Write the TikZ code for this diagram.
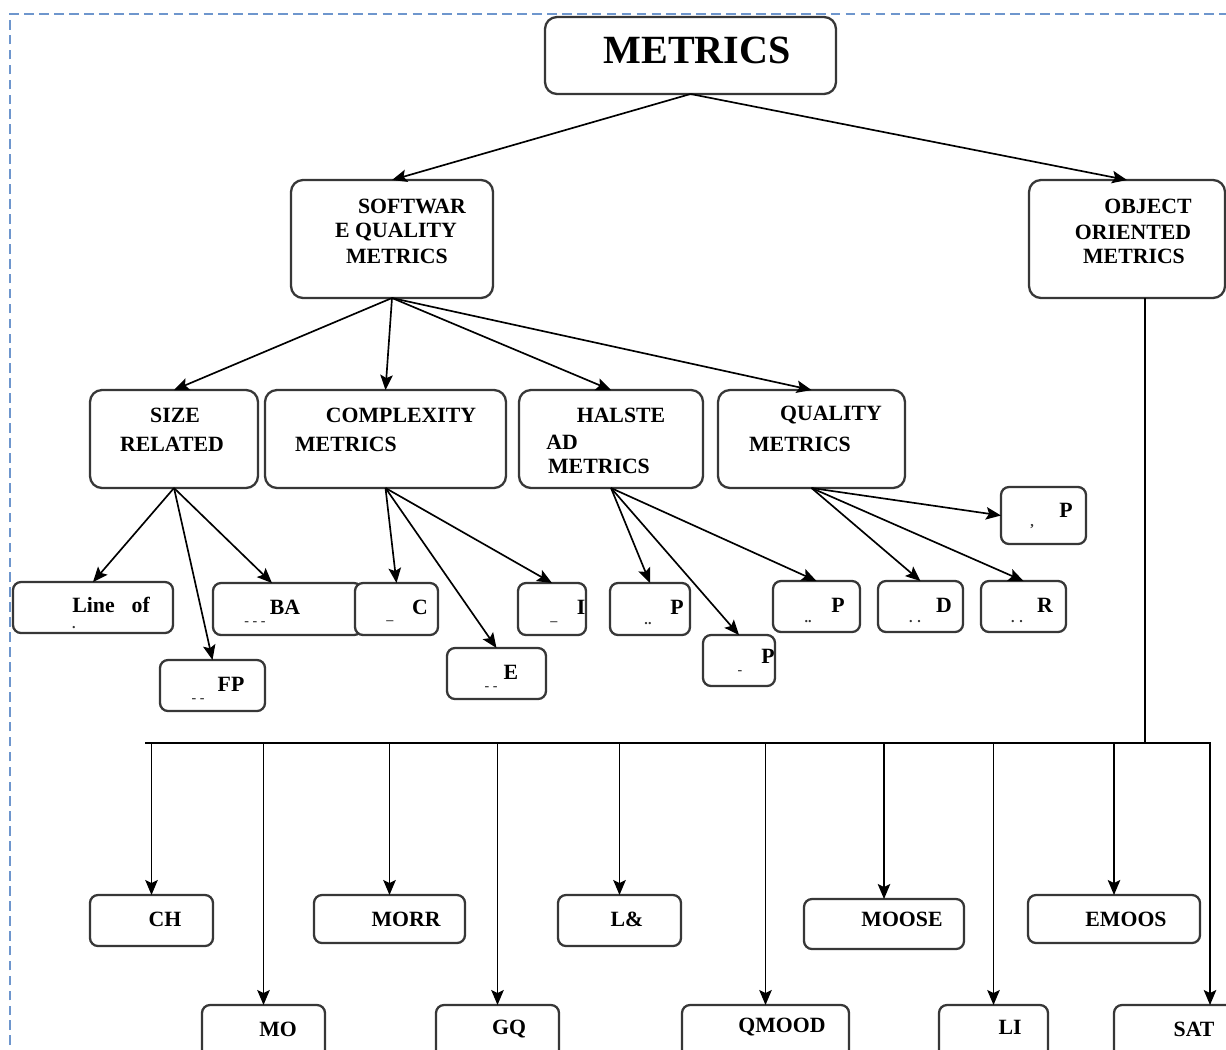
\documentclass[tikz,border=0pt]{standalone}
\usepackage{fontspec}
\setmainfont{Liberation Serif}
\usetikzlibrary{arrows.meta,calc}
\definecolor{framec}{RGB}{110,150,205}
\definecolor{boxc}{RGB}{55,55,55}
\tikzset{
  box/.style={draw=boxc, line width=1.3pt, rounded corners=0.24cm, fill=white, inner sep=0pt, outer sep=0pt},
  sbox/.style={box, rounded corners=0.16cm},
  txt/.style={font=\bfseries\fontsize{12.4}{15}\selectfont, inner sep=0pt, text=black},
  mk/.style={font=\bfseries\fontsize{8}{8}\selectfont, inner sep=0pt, text=black!80},
  arr/.style={-{Stealth[length=3mm,width=2.5mm,inset=0.6mm]}, line width=0.95pt, black},
  ln/.style={line width=0.95pt, black},
}
\newcommand{\mybox}[6][box]{\node[#1, minimum width={(#5-#3)*0.02cm}, minimum height={(#6-#4)*0.02cm}] (#2) at ({(#3+#5)/2},{(#4+#6)/2}) {};}
\newcommand{\mytxt}[4]{\node[txt] (#1) at (#2,#3) {#4};}
\newcommand{\mymk}[4]{\node[mk] (#1) at (#2,#3) {#4};}
\begin{document}
\begin{tikzpicture}[x=0.02cm,y=-0.02cm]
\useasboundingbox (0,0) rectangle (1226,1049);
\clip (0,0) rectangle (1226,1049);
% frame
\draw[framec, line width=0.9pt, dash pattern=on 5.5pt off 3pt] (10,1060) -- (10,14) -- (1240,14);

% boxes
\mybox{metrics}{545}{17}{836}{94}
\mybox{sqm}{291}{180}{493}{298}
\mybox{oom}{1029}{180}{1225}{298}
\mybox{size}{90}{390}{258}{488}
\mybox{cx}{265}{390}{506}{488}
\mybox{hal}{519}{390}{703}{488}
\mybox{ql}{718}{390}{905}{488}
\mybox[sbox]{lof}{13}{582}{173}{633}
\mybox[sbox]{ba}{213}{583}{362}{635}
\mybox[sbox]{fp}{160}{660}{265}{711}
\mybox[sbox]{bc}{355}{583}{438}{635}
\mybox[sbox]{be}{447}{648}{546}{699}
\mybox[sbox]{bi}{518}{583}{586}{635}
\mybox[sbox]{pa}{610}{583}{690}{635}
\mybox[sbox]{pb}{703}{635}{775}{686}
\mybox[sbox]{pc}{773}{581}{860}{632}
\mybox[sbox]{bd}{878}{581}{963}{632}
\mybox[sbox]{br}{981}{581}{1066}{632}
\mybox[sbox]{pq}{1001}{487}{1086}{544}
\mybox[sbox]{ch}{90}{895}{213}{946}
\mybox[sbox]{morr}{314}{895}{465}{943}
\mybox[sbox]{la}{558}{895}{681}{946}
\mybox[sbox]{moose}{804}{899}{964}{949}
\mybox[sbox]{emoos}{1028}{895}{1200}{943}
\mybox[sbox]{mo}{202}{1005}{325}{1075}
\mybox[sbox]{gq}{436}{1005}{559}{1075}
\mybox[sbox]{qmood}{682}{1005}{849}{1075}
\mybox[sbox]{li}{939}{1005}{1048}{1075}
\mybox[sbox]{sat}{1114}{1005}{1306}{1075}

% texts
\node[txt, font=\bfseries\fontsize{22.8}{26}\selectfont] (t0) at (697,50) {METRICS};
\mytxt{s1}{412}{206}{SOFTWAR}
\mytxt{s2}{396}{232}{E QUALITY}
\mytxt{s3}{397}{256}{METRICS}
\mytxt{o1}{1148}{206}{OBJECT}
\mytxt{o2}{1133}{232}{ORIENTED}
\mytxt{o3}{1134}{256}{METRICS}
\mytxt{z1}{175}{415}{SIZE}
\mytxt{z2}{172}{444}{RELATED}
\mytxt{c1}{401}{415}{COMPLEXITY}
\mytxt{c2}{346}{444}{METRICS}
\mytxt{h1}{621}{415}{HALSTE}
\mytxt{h2}{562}{442}{AD}
\mytxt{h3}{599}{466}{METRICS}
\mytxt{q1}{831}{415}{QUALITY}
\mytxt{q2}{800}{444}{METRICS}
\node[txt, anchor=west] (tlof) at (72,605) {Line\hspace{0.34cm}of};
\mymk{mlof}{74}{628}{.}
\mytxt{tba}{285}{607}{BA}
\mymk{mba}{255}{624}{- - -}
\mytxt{tfp}{231}{684}{FP}
\mymk{mfp}{198}{701}{- -}
\mytxt{tc}{420}{607}{C}
\mymk{mc}{390}{623}{–}
\mytxt{te}{511}{672}{E}
\mymk{me}{491}{689}{- -}
\mytxt{ti}{581}{607}{I}
\mymk{mi}{554}{624}{–}
\mytxt{tpa}{677}{607}{P}
\mymk{mpa}{648}{624}{..}
\mytxt{tpb}{768}{656}{P}
\mymk{mpb}{740}{673}{-}
\mytxt{tpc}{838}{605}{P}
\mymk{mpc}{808}{622}{..}
\mytxt{td}{944}{605}{D}
\mymk{md}{915}{622}{. .}
\mytxt{tr}{1045}{605}{R}
\mymk{mr}{1017}{622}{. .}
\mytxt{tpq}{1066}{510}{P}
\mymk{mpq}{1032}{527}{,}
\mytxt{tch}{165}{919}{CH}
\mytxt{tmorr}{406}{919}{MORR}
\mytxt{tla}{627}{919}{L\&}
\mytxt{tmoose}{902}{919}{MOOSE}
\mytxt{temoos}{1126}{919}{EMOOS}
\mytxt{tmo}{278}{1029}{MO}
\mytxt{tgq}{509}{1029}{GQ}
\mytxt{tqmood}{782}{1027}{QMOOD}
\mytxt{tli}{1010}{1027}{LI}
\mytxt{tsat}{1194}{1029}{SAT}

% connectors
\draw[arr] (metrics.south) -- (sqm.north);
\draw[arr] (metrics.south) -- (oom.north);
\draw[arr] (sqm.south) -- (size.north);
\draw[arr] (sqm.south) -- (cx.north);
\draw[arr] (sqm.south) -- (hal.north);
\draw[arr] (sqm.south) -- (ql.north);
\draw[arr] (size.south) -- (lof.north);
\draw[arr] (size.south) -- (fp.north);
\draw[arr] (size.south) -- ([xshift=1.18cm]ba.north west);
\draw[arr] (cx.south) -- (bc.north);
\draw[arr] (cx.south) -- (be.north);
\draw[arr] (cx.south) -- (bi.north);
\draw[arr] (hal.south) -- (pa.north);
\draw[arr] (hal.south) -- (pb.north);
\draw[arr] (hal.south) -- (pc.north);
\draw[arr] (ql.south) -- (bd.north);
\draw[arr] (ql.south) -- (br.north);
\draw[arr] (ql.south) -- (pq.west);

\coordinate (busL) at (145,743);
\coordinate (busR) at (1211,743);
\coordinate (junc) at (1145,743);
\draw[ln] ([xshift=0.36cm]oom.south) -- (junc);
\draw[ln] (busL) -- (busR);
\foreach \n in {ch,mo,morr,gq,la,qmood,moose,li,emoos,sat}
  \draw[arr] (\n.north |- busL) -- (\n.north);
\end{tikzpicture}
\end{document}
